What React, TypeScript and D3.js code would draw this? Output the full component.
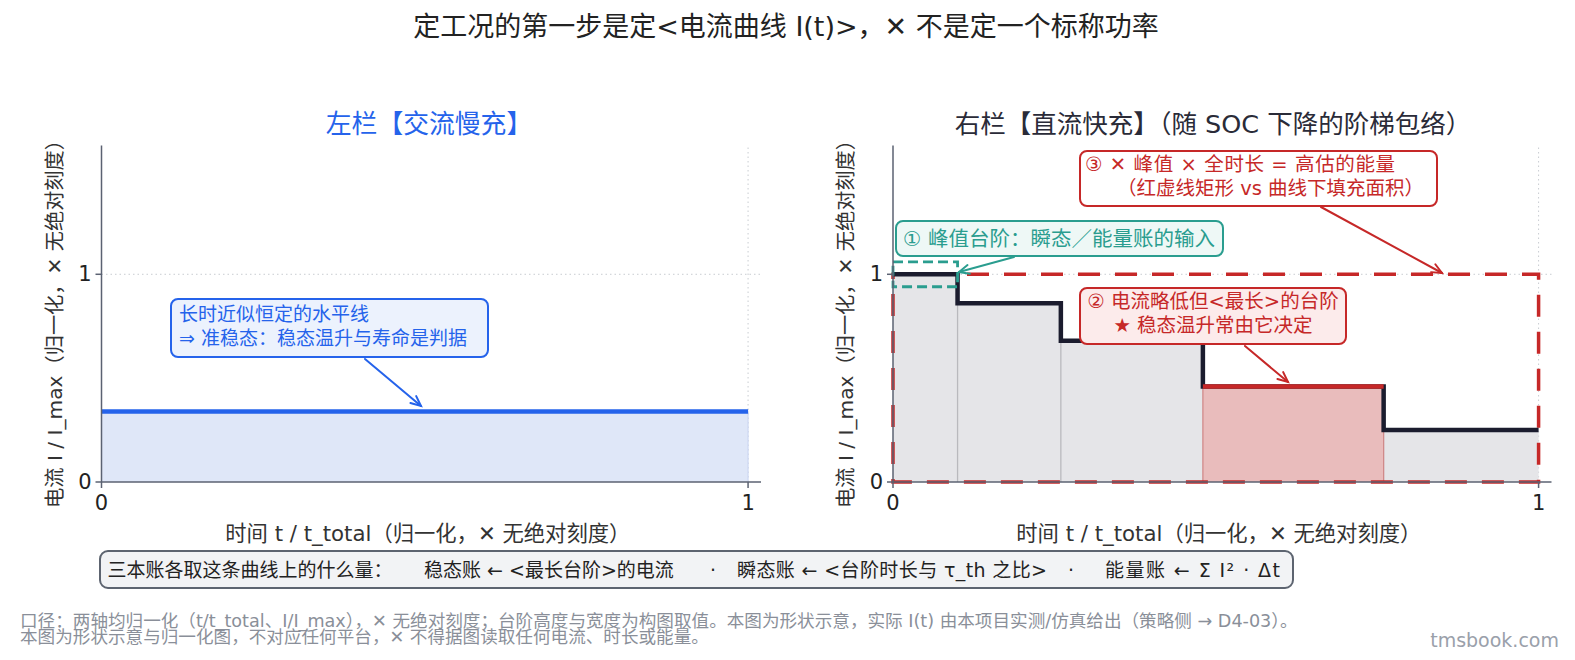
import React from 'react';
import * as d3 from 'd3';

const W = 1575, H = 660;
const FONT = '"DejaVu Sans", "Noto Sans CJK SC", sans-serif';

// ---- data ----
const xTicks = [0, 1];
const yTicks = [0, 1];
const acLevel = 0.34;                       // left panel constant current
const stepStarts = [0, 0.1, 0.26, 0.48, 0.76];
const stepEnds = [0.1, 0.26, 0.48, 0.76, 1.0];
const stepLevels = [1.0, 0.86, 0.68, 0.46, 0.25];
const longestIdx = 3;
const peakBand = [0.94, 1.06];

const mainTitle = '定工况的第一步是定<电流曲线 I(t)>，✕ 不是定一个标称功率';
const leftTitle = '左栏【交流慢充】';
const rightTitle = '右栏【直流快充】（随 SOC 下降的阶梯包络）';
const yLabel = '电流 I / I_max（归一化，✕ 无绝对刻度）';
const xLabel = '时间 t / t_total（归一化，✕ 无绝对刻度）';
const leftNote = ['长时近似恒定的水平线', '⇒ 准稳态：稳态温升与寿命是判据'];
const note1 = '① 峰值台阶：瞬态／能量账的输入';
const note2 = ['② 电流略低但<最长>的台阶', '★ 稳态温升常由它决定'];
const note3 = ['③ ✕ 峰值 × 全时长 = 高估的能量', '（红虚线矩形 vs 曲线下填充面积）'];
const bottomParts = ['三本账各取这条曲线上的什么量：', '稳态账 ← <最长台阶>的电流', '·', '瞬态账 ← <台阶时长与 τ_th 之比>', '·', '能量账 ← Σ I² · Δt'];
const footnotes = [
  '口径：两轴均归一化（t/t_total、I/I_max），✕ 无绝对刻度；台阶高度与宽度为构图取值。本图为形状示意，实际 I(t) 由本项目实测/仿真给出（策略侧 → D4-03）。',
  '本图为形状示意与归一化图，不对应任何平台，✕ 不得据图读取任何电流、时长或能量。',
];

const BLUE = '#2563eb';
const RED = '#c62828';
const TEAL = '#2a9d8f';
const DARK = '#1b1c2e';
const SPINE = '#5b6272';

const yScale = d3.scaleLinear().domain([0, 1.62]).range([482, 145.5]);
const xLeft = d3.scaleLinear().domain([0, 1.02]).range([101.5, 761]);
const xRight = d3.scaleLinear().domain([0, 1.02]).range([893, 1551.5]);

function Arrow({ x1, y1, x2, y2, color, w = 2 }: any) {
  const a = Math.atan2(y2 - y1, x2 - x1);
  const L = 11, sp = 0.42;
  const p1 = [x2 - L * Math.cos(a - sp), y2 - L * Math.sin(a - sp)];
  const p2 = [x2 - L * Math.cos(a + sp), y2 - L * Math.sin(a + sp)];
  return (
    <g stroke={color} strokeWidth={w} fill="none" strokeLinecap="round">
      <line x1={x1} y1={y1} x2={x2} y2={y2} />
      <polyline points={`${p1[0]},${p1[1]} ${x2},${y2} ${p2[0]},${p2[1]}`} />
    </g>
  );
}

function Grid({ x, title, titleX, titleColor, titleSize }: any) {
  const [x0, x1] = x.range();
  const [y0, y1] = yScale.range();
  return (
    <g>
      {yTicks.filter(t => t > 0).map(t => (
        <line key={'gy' + t} x1={x0} x2={x1} y1={yScale(t)} y2={yScale(t)} stroke="#c9ccd2" strokeWidth={1} strokeDasharray="1.5,3" />
      ))}
      {xTicks.filter(t => t > 0).map(t => (
        <line key={'gx' + t} x1={x(t)} x2={x(t)} y1={y0} y2={y1} stroke="#c9ccd2" strokeWidth={1} strokeDasharray="1.5,3" />
      ))}
      <text x={titleX} y={124} textAnchor="middle" dominantBaseline="central" fontSize={titleSize} fill={titleColor}>{title}</text>
    </g>
  );
}

function Spines({ x, labelX }: any) {
  const [x0, x1] = x.range();
  const [y0, y1] = yScale.range();
  return (
    <g>
      <line x1={x0} x2={x0} y1={y0} y2={y1} stroke={SPINE} strokeWidth={1.5} />
      <line x1={x0} x2={x1} y1={y0} y2={y0} stroke={SPINE} strokeWidth={1.5} />
      {xTicks.map(t => (
        <g key={'xt' + t}>
          <line x1={x(t)} x2={x(t)} y1={y0} y2={y0 + 6} stroke={SPINE} strokeWidth={1.5} />
          <text x={x(t)} y={y0 + 21} textAnchor="middle" dominantBaseline="central" fontSize={21} fill="#222">{t}</text>
        </g>
      ))}
      {yTicks.map(t => (
        <g key={'yt' + t}>
          <line x1={x0 - 6} x2={x0} y1={yScale(t)} y2={yScale(t)} stroke={SPINE} strokeWidth={1.5} />
          <text x={x0 - 10} y={yScale(t)} textAnchor="end" dominantBaseline="central" fontSize={21} fill="#222">{t}</text>
        </g>
      ))}
      <text x={(x0 + x(1)) / 2 + 3} y={533} textAnchor="middle" dominantBaseline="central" fontSize={21.3} fill="#333">{xLabel}</text>
      <text transform={`translate(${labelX},${319}) rotate(-90)`} textAnchor="middle" dominantBaseline="central" fontSize={20.2} fill="#333">{yLabel}</text>
    </g>
  );
}

export default function App() {
  const stepPts: [number, number][] = stepLevels.map((v, i) => [stepStarts[i], v]);
  stepPts.push([stepEnds[stepEnds.length - 1], stepLevels[stepLevels.length - 1]]);
  const stepLine = d3.line<[number, number]>().x(d => xRight(d[0])).y(d => yScale(d[1])).curve(d3.curveStepAfter);
  const acArea = d3.area<number>().x(d => xLeft(d)).y0(yScale(0)).y1(yScale(acLevel));
  const bottomX = [107.5, 424, 710, 737, 1068, 1105];
  const bottomLen: (number | undefined)[] = [undefined, undefined, undefined, 310, undefined, 175];

  return (
    <svg width={W} height={H} style={{ position: 'absolute', left: 0, top: 0, background: '#fff' }} fontFamily={FONT}>
      <rect width={W} height={H} fill="#fff" />
      <text x={786} y={26} textAnchor="middle" dominantBaseline="central" fontSize={27} fill="#222">{mainTitle}</text>

      {/* ---------- left panel ---------- */}
      <Grid x={xLeft} title={leftTitle} titleX={429} titleColor={BLUE} titleSize={25.8} />
      <path d={acArea([0, 1]) || ''} fill="#dfe7f8" />
      <line x1={xLeft(1)} x2={xLeft(1)} y1={yScale(0)} y2={yScale(acLevel)} stroke="#c8d4f2" strokeWidth={1} />
      <line x1={xLeft(0)} x2={xLeft(1)} y1={yScale(acLevel)} y2={yScale(acLevel)} stroke={BLUE} strokeWidth={4.5} />
      <Spines x={xLeft} labelX={55} />
      <rect x={171} y={299} width={317} height={58} rx={7} fill="#ecf2fd" stroke={BLUE} strokeWidth={2} />
      {leftNote.map((t, i) => (
        <text key={i} x={179} y={314 + i * 24} dominantBaseline="central" fontSize={19} fill={BLUE}>{t}</text>
      ))}
      <Arrow x1={365} y1={359} x2={421} y2={406} color={BLUE} />

      {/* ---------- right panel ---------- */}
      <Grid x={xRight} title={rightTitle} titleX={1213} titleColor="#2a2b38" titleSize={25.5} />
      {stepLevels.map((v, i) => (
        <rect key={'r' + i} x={xRight(stepStarts[i])} y={yScale(v)} width={xRight(stepEnds[i]) - xRight(stepStarts[i])} height={yScale(0) - yScale(v)}
          fill={i === longestIdx ? '#e9bcbc' : '#e5e5e8'} />
      ))}
      {stepStarts.slice(1).map((s, i) => (
        <line key={'sep' + i} x1={xRight(s)} x2={xRight(s)} y1={yScale(0)} y2={yScale(stepLevels[i + 1])}
          stroke={i + 1 === longestIdx || i + 1 === longestIdx + 1 ? '#d08a8a' : '#b9b9bd'} strokeWidth={1.3} />
      ))}
      {/* red dashed rectangle: peak × full duration */}
      <rect x={xRight(0)} y={yScale(1)} width={xRight(1) - xRight(0)} height={yScale(0) - yScale(1)} fill="none" stroke={RED} strokeWidth={3.5} strokeDasharray="22,15" />
      {/* step envelope */}
      <path d={stepLine(stepPts) || ''} fill="none" stroke={DARK} strokeWidth={4.5} />
      <line x1={xRight(stepStarts[longestIdx])} x2={xRight(stepEnds[longestIdx])} y1={yScale(stepLevels[longestIdx])} y2={yScale(stepLevels[longestIdx])} stroke={RED} strokeWidth={4.5} />
      {/* peak band */}
      <rect x={xRight(0)} y={yScale(peakBand[1])} width={xRight(stepEnds[0]) - xRight(0)} height={yScale(peakBand[0]) - yScale(peakBand[1])} fill="none" stroke={TEAL} strokeWidth={2.8} strokeDasharray="10,5" />
      <Spines x={xRight} labelX={846} />

      {/* note ① */}
      <rect x={896} y={221} width={327} height={35} rx={7} fill="#eef8f6" stroke={TEAL} strokeWidth={2} />
      <text x={903} y={238.5} dominantBaseline="central" fontSize={20.5} fill={TEAL}>{note1}</text>
      <Arrow x1={1014} y1={257} x2={959} y2={272} color={TEAL} />

      {/* note ③ */}
      <rect x={1080} y={151} width={357} height={55} rx={7} fill="#fff" stroke={RED} strokeWidth={2} />
      <text x={1085} y={164} dominantBaseline="central" fontSize={19.5} fill={RED} textLength={310} lengthAdjust="spacing">{note3[0]}</text>
      <text x={1117} y={188} dominantBaseline="central" fontSize={19.5} fill={RED}>{note3[1]}</text>
      <Arrow x1={1321} y1={207} x2={1442} y2={273} color={RED} />

      {/* note ② */}
      <rect x={1080} y={288} width={266} height={56} rx={7} fill="#fcebeb" stroke={RED} strokeWidth={2} />
      {note2.map((t, i) => (
        <text key={i} x={1213} y={301 + i * 24.5} textAnchor="middle" dominantBaseline="central" fontSize={19.5} fill={RED}>{t}</text>
      ))}
      <Arrow x1={1245} y1={346} x2={1288} y2={382} color={RED} />

      {/* bottom box */}
      <rect x={100} y={551} width={1193} height={37} rx={8} fill="#f2f3f5" stroke="#5d6470" strokeWidth={2} />
      {bottomX.map((x, i) => (
        <text key={i} x={x} y={569.5} dominantBaseline="central" fontSize={19} fill="#222"
          {...(bottomLen[i] ? { textLength: bottomLen[i], lengthAdjust: 'spacing' } : {})}>{bottomParts[i]}</text>
      ))}

      {/* footnotes */}
      {footnotes.map((t, i) => (
        <text key={i} x={20} y={621 + i * 16} dominantBaseline="central" fontSize={17.6} fill="#8a8f99">{t}</text>
      ))}
      <text x={1559} y={640} textAnchor="end" dominantBaseline="central" fontSize={19} fill="#9aa0aa">tmsbook.com</text>
    </svg>
  );
}
